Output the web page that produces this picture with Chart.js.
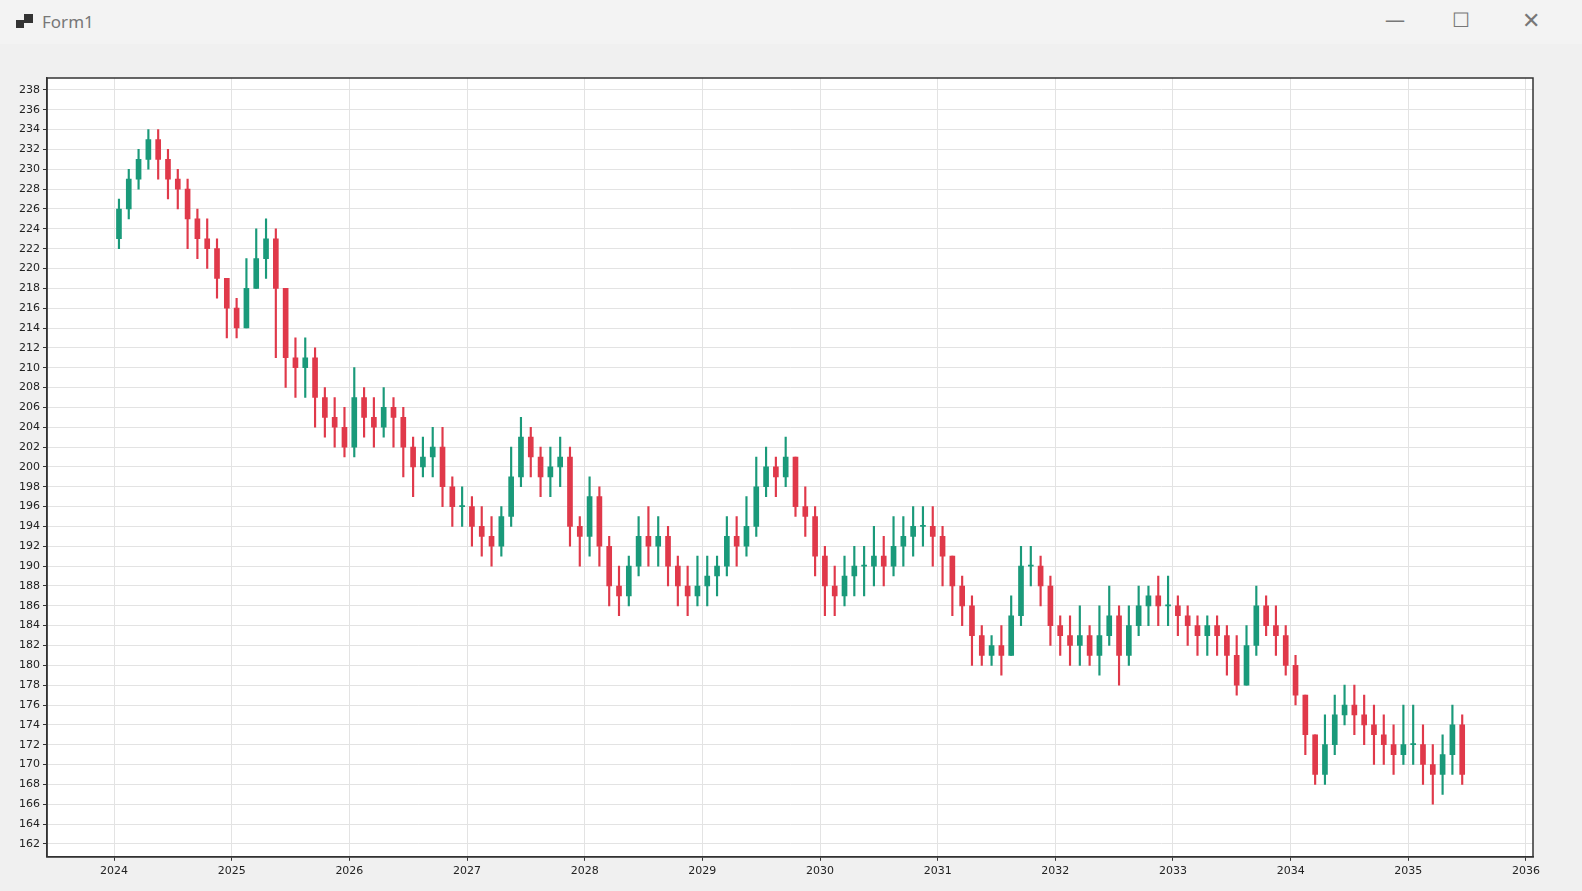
<!DOCTYPE html>
<html><head><meta charset="utf-8">
<script src="https://cdn.jsdelivr.net/npm/chart.js@4"></script>
<style>
html,body{margin:0;padding:0;background:#f0f0f0;width:1582px;height:891px;overflow:hidden;font-family:"Segoe UI","Noto Sans",sans-serif}
#title{position:absolute;left:0;top:0;width:1582px;height:44px;background:#f3f3f3;}
#title span{position:absolute;left:42px;top:10px;font-size:17px;color:#777}
#icon{position:absolute;left:16px;top:14px;width:18px;height:16px}
#wrap{position:absolute;left:0;top:46px;width:1566px;height:838px;background:#f0f0f0}
canvas{display:block}
</style></head><body>
<div id="title"><svg id="icon" viewBox="0 0 18 16"><rect x="0" y="6" width="8" height="8" fill="#333"/><rect x="8" y="0" width="9" height="9" fill="#333"/></svg><span>Form1</span>
<span style="left:1385px;top:6px;font-size:20px">—</span><span style="left:1452px;top:6px;font-size:20px">☐</span><span style="left:1522px;top:4px;font-size:22px">✕</span></div>
<div id="wrap"><canvas id="c" width="1566" height="838"></canvas></div>
<script>
const startYear = 2024;
const xTickLabels = [2024,2025,2026,2027,2028,2029,2030,2031,2032,2033,2034,2035,2036];
const yTickLabels = [162,164,166,168,170,172,174,176,178,180,182,184,186,188,190,192,194,196,198,200,202,204,206,208,210,212,214,216,218,220,222,224,226,228,230,232,234,236,238];
const closes = [
226,229,231,233,231,229,228,225,223,222,219,216,
214,218,221,223,218,211,210,211,207,205,204,202,
207,205,204,206,205,202,200,201,202,198,196,196,
194,193,192,195,199,203,201,199,200,201,194,193,
197,192,188,187,190,193,192,193,190,188,187,188,
189,190,193,192,194,198,200,199,201,196,195,191,
188,187,189,190,190,191,190,192,193,194,194,193,
191,188,186,183,181,182,181,185,190,190,188,184,
183,182,183,181,183,185,181,184,186,187,186,186,
185,184,183,184,183,181,178,182,186,184,183,180,
177,173,169,172,175,176,175,174,173,172,171,172,
172,170,169,171,174,169];
const highs = [
227,230,232,234,234,232,230,229,226,225,223,219,
217,221,224,225,224,214,213,213,212,208,207,206,
210,208,207,208,207,206,203,203,204,204,199,198,
197,196,195,196,202,205,204,202,202,203,202,195,
199,198,193,190,191,195,196,195,194,191,190,191,
191,191,195,195,197,201,202,201,203,201,198,196,
192,190,191,192,192,194,193,195,195,196,196,196,
194,191,189,187,184,183,184,187,192,192,191,189,
185,185,186,184,186,188,186,186,188,188,189,189,
187,186,185,185,185,184,183,184,188,187,186,184,
181,177,173,175,177,178,178,177,176,175,174,176,
176,174,172,173,176,175];
const lows = [
222,225,228,230,229,227,226,222,221,220,217,213,
213,214,218,219,211,208,207,207,204,203,202,201,
201,203,202,203,202,199,197,199,199,196,194,194,
192,191,190,191,194,198,199,197,197,198,192,190,
191,190,186,185,186,189,190,190,188,186,185,186,
186,187,189,190,191,193,197,197,198,195,193,189,
185,185,186,187,187,188,188,189,190,191,192,190,
188,185,184,180,180,180,179,181,184,188,186,182,
181,180,180,180,179,182,178,180,183,184,184,184,
183,182,181,181,181,179,177,178,181,183,181,179,
176,171,168,168,171,174,173,172,170,170,169,170,
170,168,166,167,169,168];
const firstOpen = 223;
const UP='#1a9a7a', DOWN='#e0394a';
const bodies=[], wicks=[], colors=[];
closes.forEach((c,i)=>{
  const o = i===0?firstOpen:closes[i-1];
  const x = startYear + (i+0.5)/12;
  bodies.push({x:x,y:[o,c]});
  wicks.push({x:x,y:[lows[i],highs[i]]});
  colors.push(c>=o?UP:DOWN);
});
const setTicks = arr => s => { s.ticks = arr.map(v=>({value:v})); };
new Chart(document.getElementById('c'),{
  type:'bar',
  data:{datasets:[
    {data:wicks,backgroundColor:colors,barThickness:1.5,grouped:false,order:2},
    {data:bodies,backgroundColor:colors,barThickness:5,grouped:false,order:1,minBarLength:1}
  ]},
  options:{responsive:false,animation:false,
    layout:{padding:{left:16,right:33,top:32,bottom:2}},
    plugins:{legend:{display:false},tooltip:{enabled:false}},
    scales:{
      x:{type:'linear',offset:false,min:2023.43,max:2036.06,afterBuildTicks:setTicks(xTickLabels),
        ticks:{color:'#222',font:{size:11,family:'DejaVu Sans'},padding:4,autoSkip:false,maxRotation:0,callback:v=>String(v)},
        grid:{color:'#e3e3e3',tickLength:4,tickColor:'#333',offset:false},border:{color:'#333',width:1.5}},
      y:{min:160.7,max:239.2,afterBuildTicks:setTicks(yTickLabels),
        ticks:{color:'#222',font:{size:11,family:'DejaVu Sans'},padding:3,autoSkip:false,callback:v=>String(v)},
        grid:{color:'#e3e3e3',tickLength:4,tickColor:'#333'},border:{color:'#333',width:1.5}}
    }
  },
  plugins:[{id:'bg',beforeDraw(ch){const {ctx,chartArea:a}=ch;ctx.save();ctx.fillStyle='#fff';ctx.fillRect(a.left,a.top,a.width,a.height);ctx.restore();},
    afterDraw(ch){const {ctx,chartArea:a}=ch;ctx.save();ctx.strokeStyle='#333';ctx.lineWidth=1.5;ctx.strokeRect(a.left,a.top,a.width,a.height);ctx.restore();}}]
});
</script></body></html>
